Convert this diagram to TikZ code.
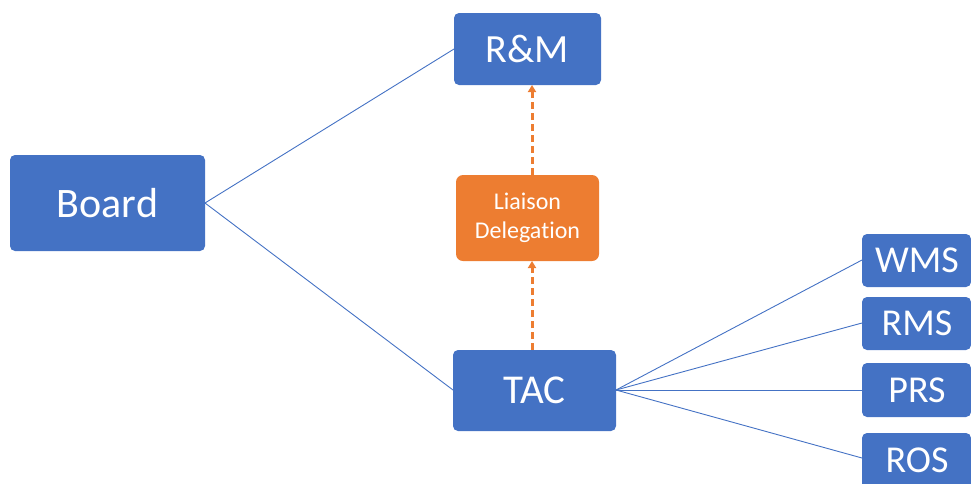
\documentclass[tikz,border=0pt]{standalone}
\usepackage{fontspec}
\setmainfont[Ligatures=NoCommon]{Carlito}
\usetikzlibrary{arrows.meta}
\definecolor{bblue}{HTML}{4472C4}
\definecolor{borange}{HTML}{ED7D31}
\begin{document}
\begin{tikzpicture}[x=1pt,y=-1pt,
  box/.style={fill=bblue,rounded corners=5pt,text=white,inner sep=0pt},
  obox/.style={fill=borange,rounded corners=7pt},
  small/.style={text=white,font=\fontsize{38}{40}\selectfont},
  link/.style={draw=bblue,line width=0.9pt},
  dep/.style={draw=borange,line width=3pt,dash pattern=on 7pt off 4pt,-{Triangle[length=7pt,width=8pt]}}]
\useasboundingbox (0,0) rectangle (971,483);
\path[box] (10,155) rectangle (205,251);
\node[text=white,font=\fontsize{42}{44}\selectfont] (board) at (107.5,203) {Board};
\coordinate (boardE) at (205,203);
\path[box] (454,13) rectangle (601,85);
\node[text=white,font=\fontsize{40}{44}\selectfont] (rm) at (527.5,49) {R\&M};
\coordinate (rmW) at (454,49);
\coordinate (rmS) at (532,85);
\path[obox] (456,175) rectangle (599,261);
\node[text=white,align=center,font=\fontsize{24}{29}\selectfont] (liaison) at (527.5,218) {Liaison\\Delegation};
\coordinate (liN) at (532,175);
\coordinate (liS) at (532,261);
\path[box] (453,350) rectangle (616,431);
\node[text=white,font=\fontsize{41}{44}\selectfont] (tac) at (534.5,390.5) {TAC};
\coordinate (tacW) at (453,390);
\coordinate (tacE) at (616,390);
\coordinate (tacN) at (532,350);
\path[box] (862,234) rectangle (971,287);
\node[small] (wms) at (917,260.5) {WMS};
\path[box] (862,297) rectangle (971,350);
\node[small] (rms) at (917,323.5) {RMS};
\path[box] (862,363) rectangle (971,417);
\node[small] (prs) at (917,390) {PRS};
\path[box] (862,433) rectangle (971,490);
\node[small] (ros) at (917,460) {ROS};
\coordinate (wmsW) at (862,260);
\coordinate (rmsW) at (862,323);
\coordinate (prsW) at (862,390);
\coordinate (rosW) at (862,458);
\draw[link] (boardE) -- (rmW);
\draw[link] (boardE) -- (tacW);
\draw[link] (tacE) -- (wmsW);
\draw[link] (tacE) -- (rmsW);
\draw[link] (tacE) -- (prsW);
\draw[link] (tacE) -- (rosW);
\draw[dep] (liN) -- (rmS);
\draw[dep] (tacN) -- (liS);
\end{tikzpicture}
\end{document}
